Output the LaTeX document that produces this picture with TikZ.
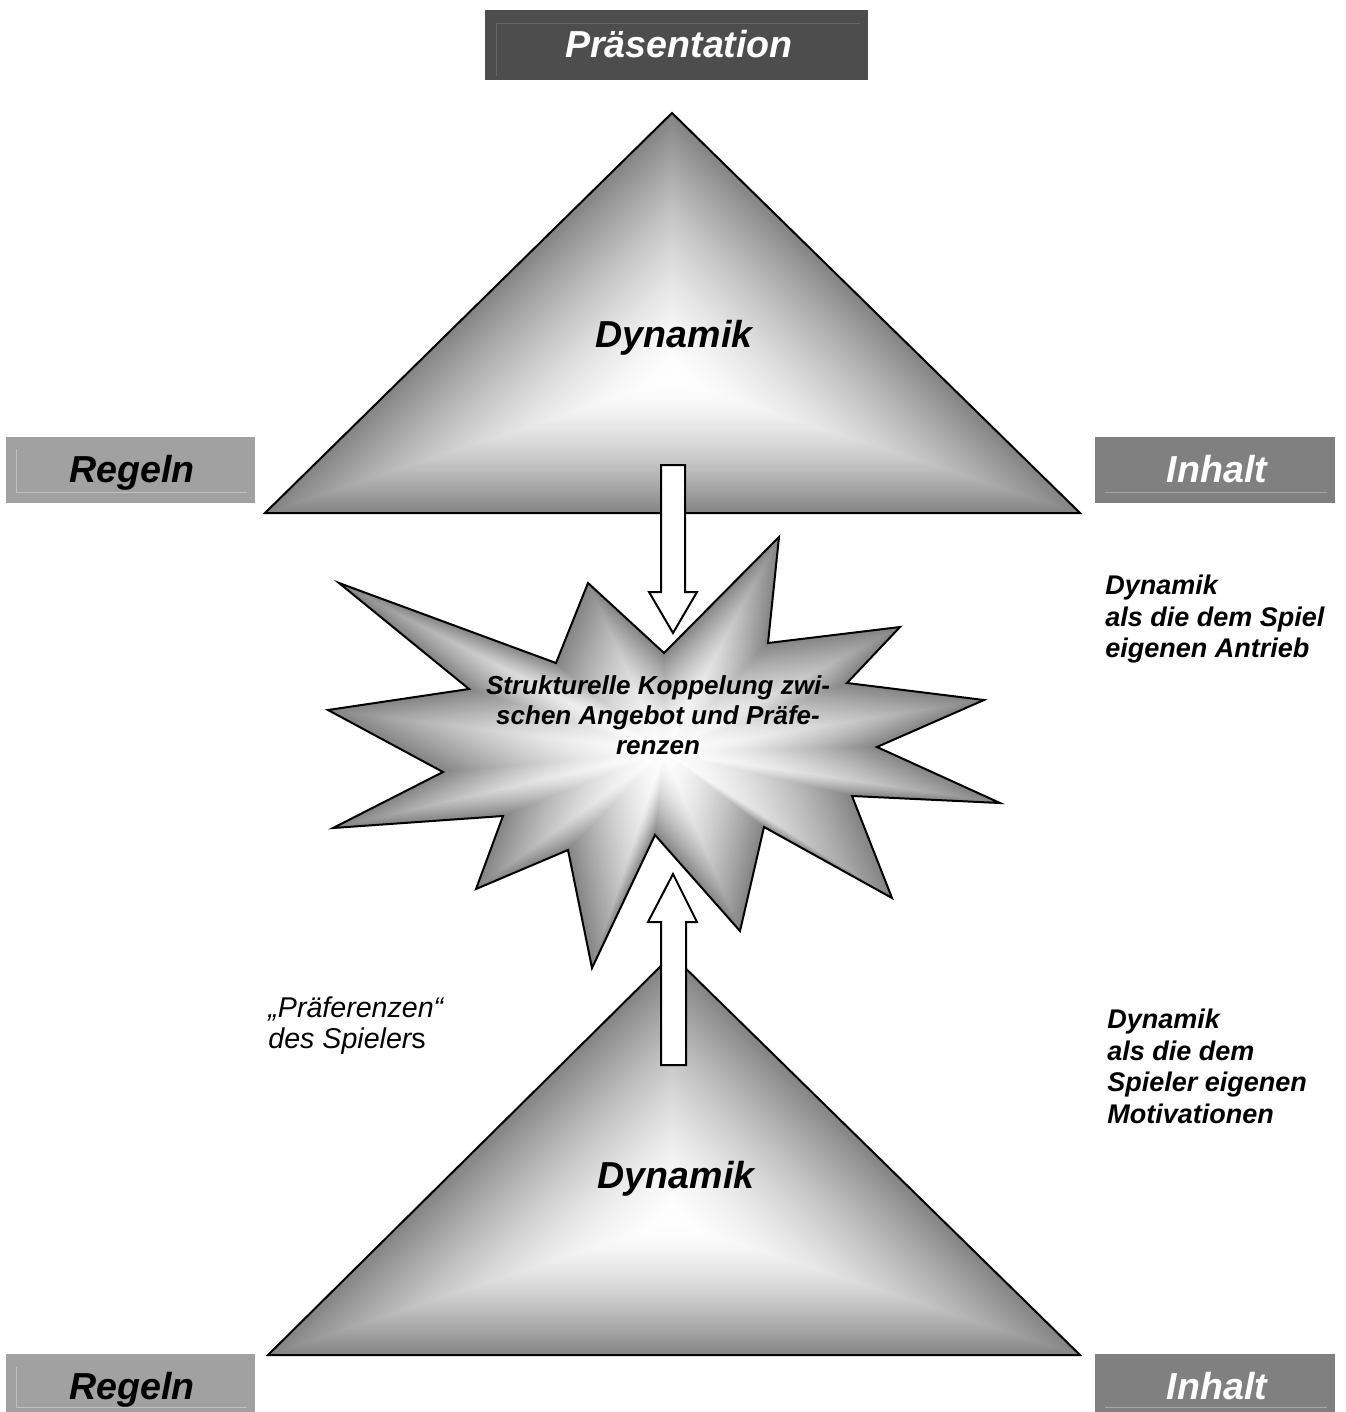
\documentclass[tikz,border=0pt]{standalone}
\usepackage{fontspec}
\setmainfont{Liberation Sans}
\usetikzlibrary{calc}
\definecolor{boxdark}{HTML}{4D4D4D}
\definecolor{boxlight}{HTML}{A1A1A1}
\definecolor{boxmid}{HTML}{808080}
\definecolor{shadeedge}{HTML}{858585}
% path gradient: nested copies of a closed path, scaled about a centre,
% going from grey at the outline to white at the centre
\newcommand\pathgradient[2]{%
  \foreach \k in {0,...,59}{%
    \pgfmathsetmacro\gscale{1-\k/60}%
    \pgfmathsetmacro\gwhite{100*(1-\gscale^1.6)}%
    \fill[white!\gwhite!shadeedge, scale around={\gscale:#1}] #2;
  }}
\begin{document}
\begin{tikzpicture}[x=0.5pt,y=-0.5pt,
  darklabel/.style={font=\fontsize{18.8}{22}\selectfont\bfseries\itshape,
    text=black, inner sep=0pt, anchor=base},
  lightlabel/.style={darklabel, text=white},
  startext/.style={font=\fontsize{13}{15}\selectfont\bfseries\itshape,
    align=center, inner sep=0pt},
  sidetext/.style={font=\fontsize{13.5}{15.75}\selectfont\bfseries\itshape,
    align=left, inner sep=0pt, anchor=north west},
  notetext/.style={font=\fontsize{14.3}{15.8}\selectfont\itshape,
    align=left, inner sep=0pt, anchor=north west},
  outline/.style={draw=black, line width=1pt, line join=miter},
  blockarrow/.style={fill=white, draw=black, line width=1pt}]
\useasboundingbox (0,0) rectangle (1345,1412);
\clip (0,0) rectangle (1345,1412);

% heading box
\fill[boxdark] (485,10) rectangle (868,80);
\draw[color=black!60, line width=0.5pt] (496,76) -- (496,24) -- (860,24);
\node[lightlabel] (praes) at (679,58) {Präsentation};

% upper triangle
\coordinate (tc) at (672,380);
\pathgradient{(tc)}{(672,113) -- (1080,513) -- (265,513) -- cycle}
\draw[outline] (672,113) -- (1080,513) -- (265,513) -- cycle;
\node[darklabel] (dyn1) at (674,347) {Dynamik};

% side boxes, upper row
\fill[boxlight] (6,437) rectangle (255,503);
\draw[color=black!25, line width=0.5pt] (16,449) -- (16,492) -- (247,492);
\node[darklabel] (regeln1) at (132,482) {Regeln};
\fill[boxmid] (1095,437) rectangle (1335,503);
\draw[color=black!35, line width=0.5pt] (1105,492) -- (1327,492);
\node[lightlabel] (inhalt1) at (1217,482) {Inhalt};

% downward block arrow
\draw[blockarrow] (661,465) -- (685,465) -- (685,592) -- (697,592) -- (673,633)
  -- (649,592) -- (661,592) -- cycle;

% burst
\coordinate (sc) at (664,752);
\pathgradient{(sc)}{(339,583) -- (556,663) -- (588,583) -- (664,653) -- (779,537)
  -- (768,643) -- (900,627) -- (847,683) -- (984,700) -- (877,747) -- (1000,803)
  -- (852,796) -- (892,898) -- (764,827) -- (740,931) -- (655,835) -- (592,968)
  -- (568,850) -- (476,889) -- (503,816) -- (333,828) -- (443,772) -- (328,710)
  -- (469,689) -- cycle}
\draw[outline] (339,583) -- (556,663) -- (588,583) -- (664,653) -- (779,537)
  -- (768,643) -- (900,627) -- (847,683) -- (984,700) -- (877,747) -- (1000,803)
  -- (852,796) -- (892,898) -- (764,827) -- (740,931) -- (655,835) -- (592,968)
  -- (568,850) -- (476,889) -- (503,816) -- (333,828) -- (443,772) -- (328,710)
  -- (469,689) -- cycle;
\node[startext] (koppl) at (658,715)
  {Strukturelle Koppelung zwi-\\schen Angebot und Präfe-\\renzen};

% lower triangle
\coordinate (bc) at (672,1222);
\pathgradient{(bc)}{(672,955) -- (1080,1355) -- (268,1355) -- cycle}
\draw[outline] (672,955) -- (1080,1355) -- (268,1355) -- cycle;
\node[darklabel] (dyn2) at (676,1188) {Dynamik};

% upward block arrow
\draw[blockarrow] (661,1065) -- (686,1065) -- (686,922) -- (697,922) -- (673,874)
  -- (648,922) -- (661,922) -- cycle;

% side boxes, lower row
\fill[boxlight] (6,1354) rectangle (255,1420);
\draw[color=black!25, line width=0.5pt] (16,1367) -- (16,1407) -- (247,1407);
\node[darklabel] (regeln2) at (132,1399) {Regeln};
\fill[boxmid] (1095,1354) rectangle (1335,1420);
\draw[color=black!35, line width=0.5pt] (1105,1407) -- (1327,1407);
\node[lightlabel] (inhalt2) at (1217,1399) {Inhalt};

% annotations
\node[sidetext] (antrieb) at (1105,575)
  {Dynamik\\als die dem Spiel\\eigenen Antrieb};
\node[sidetext] (motiv) at (1107,1009)
  {Dynamik\\als die dem\\Spieler eigenen\\Motivationen};
\node[notetext] (praef) at (268,996)
  {„Präferenzen“\\des Spieler{\upshape s}};
\end{tikzpicture}
\end{document}
